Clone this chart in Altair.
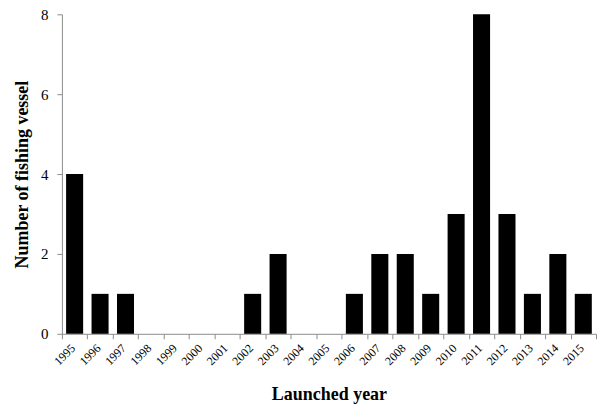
import altair as alt
import pandas as pd

years = [str(y) for y in range(1995, 2016)]
counts = [4, 1, 1, 0, 0, 0, 0, 1, 2, 0, 0, 1, 2, 2, 1, 3, 8, 3, 1, 2, 1]

df = pd.DataFrame({"year": years, "count": counts})

FONT = "Liberation Serif"

chart = alt.Chart(df).mark_bar(color="black", width=alt.RelativeBandSize(0.67)).encode(
    x=alt.X("year:N", sort=years,
            scale=alt.Scale(paddingInner=0, paddingOuter=0),
            axis=alt.Axis(title="Launched year", labelAngle=-45, labelAlign="right",
                          labelBaseline="middle", labelPadding=7, labelOffset=-2,
                          tickBand="extent",
                          tickSize=5, domainColor="#8c8c8c", tickColor="#8c8c8c",
                          labelFont=FONT, labelFontSize=12, labelColor="black",
                          titleFont=FONT, titleFontSize=18, titleFontWeight="bold",
                          titleColor="black", titlePadding=19)),
    y=alt.Y("count:Q",
            scale=alt.Scale(domain=[0, 8], nice=False),
            axis=alt.Axis(title="Number of fishing vessel", values=[0, 2, 4, 6, 8],
                          grid=False, tickSize=5, domainColor="#8c8c8c", tickColor="#8c8c8c",
                          labelFont=FONT, labelFontSize=15, labelColor="black", labelPadding=9,
                          titleFont=FONT, titleFontSize=18, titleFontWeight="bold",
                          titleColor="black", titlePadding=9)),
).properties(
    width=535, height=320,
    autosize=alt.AutoSizeParams(type="none"),
    padding={"left": 54, "top": 6, "right": 2, "bottom": 74},
).configure_view(stroke=None)

chart.save("out.html", embed_options={"renderer": "svg", "actions": False})
